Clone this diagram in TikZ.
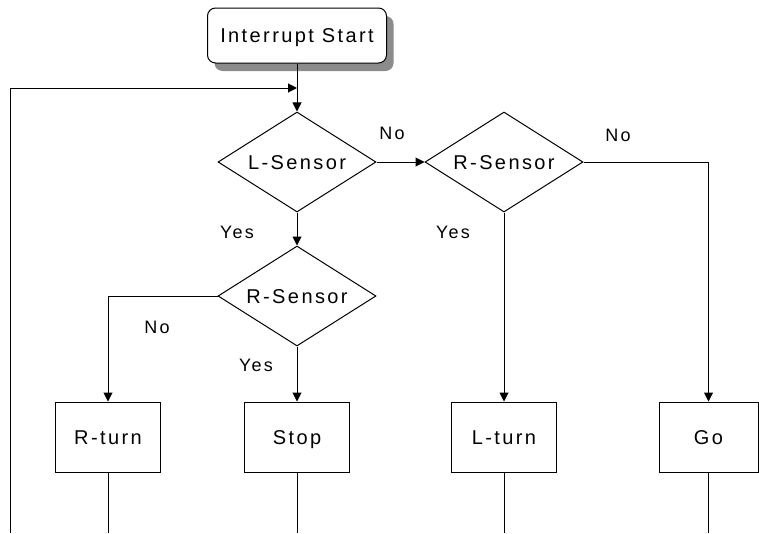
\documentclass[tikz,border=0pt]{standalone}
\usepackage{fontspec}
\setmainfont[LetterSpace=12]{Liberation Sans}
\usetikzlibrary{arrows.meta,positioning,shapes.geometric,shadows}

\begin{document}
\begin{tikzpicture}[ x=1pt, y=-1pt, font=\fontsize{20}{22}\selectfont,
      >={Triangle[length=9pt,width=9pt]}, line/.style={line width=1pt},
      arrow/.style={line, ->}, start/.style={ draw, line, rounded
      corners=8pt, minimum width=179pt, minimum height=55pt, fill=white,
      text height=17pt, text depth=3pt,
      drop shadow={shadow xshift=7pt, shadow yshift=-8pt, fill=black!45,
      opacity=1} }, decision/.style={ diamond, draw, line, aspect=1.6,
      inner sep=0pt, text height=17pt, text depth=3pt, minimum width=158pt,
      minimum height=100pt }, action/.style={draw, line, minimum
      width=105pt, minimum height=70pt, text height=17pt, text depth=3pt},
      lbl/.style={font=\fontsize{18}{20}\selectfont} ]

    \useasboundingbox (0,0) rectangle (759,533);

    \node[start] (s) at (297,35.5) {Interrupt Start};

    \node[decision] (l1) at (297,162) {L-Sensor};
    \node[decision] (r1) at (504,162) {R-Sensor};
    \node[decision] (r2) at (297,296) {R-Sensor};

    \node[action] (rt) at (108,437) {R-turn};
    \node[action] (st) at (297,437) {Stop};
    \node[action] (lt) at (504,437) {L-turn};
    \node[action, minimum width=99pt] (go) at (708.5,437) {Go};

    \coordinate (loop) at (10,533);
    \coordinate (join) at (297,88);

    \draw[arrow] (loop) |- (join);
    \draw[arrow] (s) -- (l1);
    \draw[arrow] (l1) -- (r1);
    \draw[arrow] (l1) -- (r2);
    \draw[arrow] (r1) -- (lt);
    \draw[arrow] (r1.east) -| (go);
    \draw[arrow] (r2.west) -| (rt);
    \draw[arrow] (r2) -- (st);

    \draw[line] (rt.south) -- (rt.south |- loop);
    \draw[line] (st.south) -- (st.south |- loop);
    \draw[line] (lt.south) -- (lt.south |- loop);
    \draw[line] (go.south) -- (go.south |- loop);

    \node[lbl] (no1) at (392,133) {No};
    \node[lbl] (no2) at (618,135) {No};
    \node[lbl] (yes1) at (237,232) {Yes};
    \node[lbl] (yes2) at (453,232) {Yes};
    \node[lbl] (no3) at (157,327) {No};
    \node[lbl] (yes3) at (256,365) {Yes};

  \end{tikzpicture}
\end{document}
